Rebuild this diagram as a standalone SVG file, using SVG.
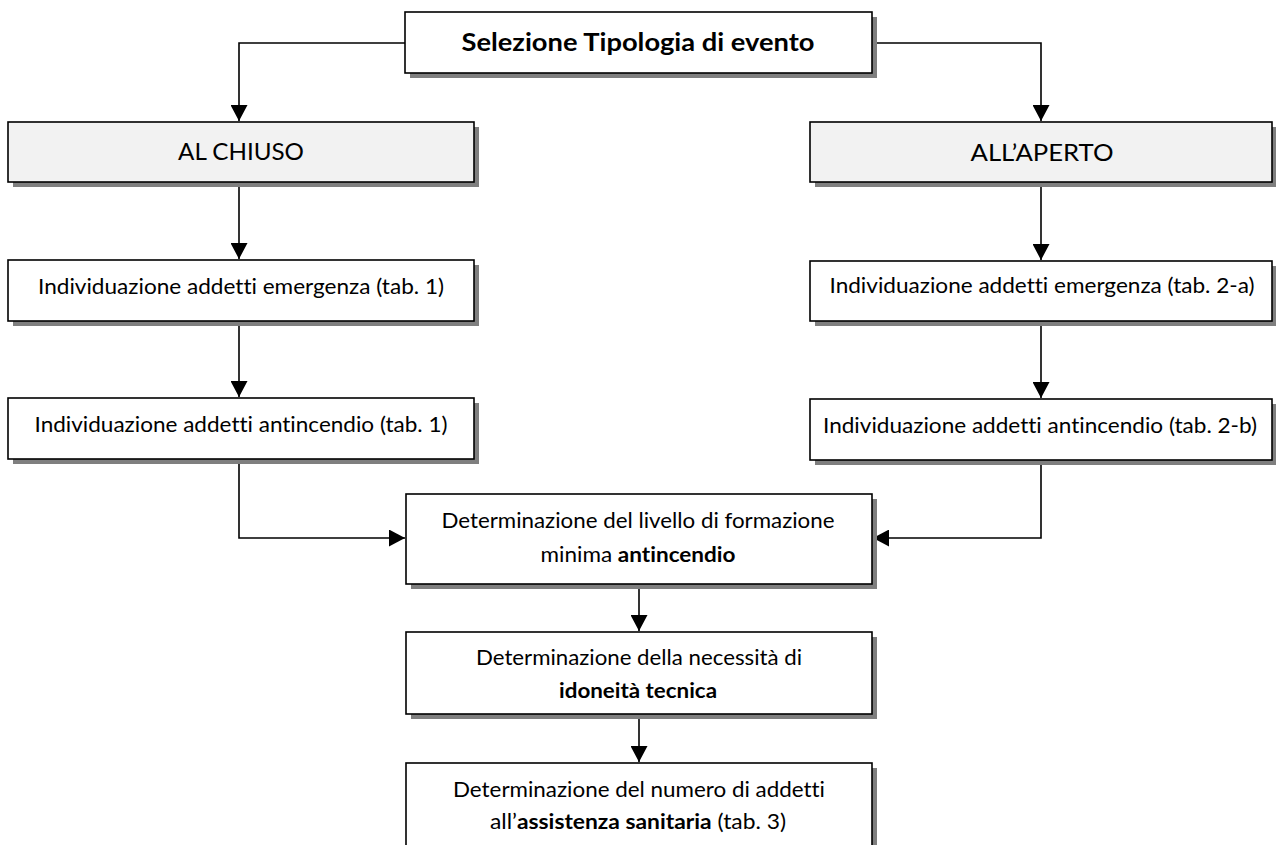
<svg xmlns="http://www.w3.org/2000/svg" width="1276" height="845" viewBox="0 0 1276 845">
<style>
.box{fill:#fff;stroke:#000;stroke-width:1.6}
.gray{fill:#f2f2f2}
.sh{fill:#7f7f7f}
.t{font-family:Lato,"Open Sans","Liberation Sans",sans-serif;font-size:21px;fill:#000;text-anchor:middle;font-variant-ligatures:none;font-feature-settings:"liga" 0,"clig" 0}
.big{font-size:24px}
.b{font-weight:bold}
.c{fill:none;stroke:#000;stroke-width:1.6}
</style>
<defs>
<marker id="ah" markerUnits="userSpaceOnUse" markerWidth="17" markerHeight="17" refX="16" refY="8.5" orient="auto" viewBox="0 0 17 17">
<path d="M0,0 L16,8.5 L0,17 z" fill="#000"/>
</marker>
</defs>
<rect width="1276" height="845" fill="#fff"/>

<g id="connectors">
<path class="c" d="M405,43 H239 V121" marker-end="url(#ah)"/>
<path class="c" d="M872,43 H1041 V121" marker-end="url(#ah)"/>
<path class="c" d="M239,182 V259" marker-end="url(#ah)"/>
<path class="c" d="M239,321 V397" marker-end="url(#ah)"/>
<path class="c" d="M1041,182 V260" marker-end="url(#ah)"/>
<path class="c" d="M1041,321 V398" marker-end="url(#ah)"/>
<path class="c" d="M239,459 V538 H405" marker-end="url(#ah)"/>
<path class="c" d="M1041,460 V538 H873" marker-end="url(#ah)"/>
<path class="c" d="M639,584 V631" marker-end="url(#ah)"/>
<path class="c" d="M639,714 V762" marker-end="url(#ah)"/>
</g>

<g id="n-tipologia">
<rect class="sh" x="410" y="17" width="467" height="61"/>
<rect class="box" x="405" y="12" width="467" height="61"/>
<text class="t big b" x="638" y="51" textLength="353" lengthAdjust="spacingAndGlyphs">Selezione Tipologia di evento</text>
</g>

<g id="n-chiuso">
<rect class="sh" x="13" y="127" width="466" height="60"/>
<rect class="box gray" x="8" y="122" width="466" height="60"/>
<text class="t big" x="241" y="160" textLength="126" lengthAdjust="spacingAndGlyphs">AL CHIUSO</text>
</g>

<g id="n-aperto">
<rect class="sh" x="815" y="127" width="462" height="60"/>
<rect class="box gray" x="810" y="122" width="462" height="60"/>
<text class="t big" x="1042" y="161" textLength="143" lengthAdjust="spacingAndGlyphs">ALL’APERTO</text>
</g>

<g id="n-emerg-1">
<rect class="sh" x="13" y="265" width="466" height="61"/>
<rect class="box" x="8" y="260" width="466" height="61"/>
<text class="t" x="241" y="294" textLength="406" lengthAdjust="spacingAndGlyphs">Individuazione addetti emergenza (tab. 1)</text>
</g>

<g id="n-antinc-1">
<rect class="sh" x="13" y="403" width="466" height="61"/>
<rect class="box" x="8" y="398" width="466" height="61"/>
<text class="t" x="241" y="432" textLength="413" lengthAdjust="spacingAndGlyphs">Individuazione addetti antincendio (tab. 1)</text>
</g>

<g id="n-emerg-2a">
<rect class="sh" x="815" y="266" width="462" height="60"/>
<rect class="box" x="810" y="261" width="462" height="60"/>
<text class="t" x="1042" y="293" textLength="425" lengthAdjust="spacingAndGlyphs">Individuazione addetti emergenza (tab. 2-a)</text>
</g>

<g id="n-antinc-2b">
<rect class="sh" x="815" y="404" width="462" height="61"/>
<rect class="box" x="810" y="399" width="462" height="61"/>
<text class="t" x="1040" y="433" textLength="434" lengthAdjust="spacingAndGlyphs">Individuazione addetti antincendio (tab. 2-b)</text>
</g>

<g id="n-formazione">
<rect class="sh" x="411" y="499" width="466" height="90"/>
<rect class="box" x="406" y="494" width="466" height="90"/>
<text class="t" x="638" y="528" textLength="393" lengthAdjust="spacingAndGlyphs">Determinazione del livello di formazione</text>
<text class="t" x="638" y="562" textLength="195" lengthAdjust="spacingAndGlyphs">minima <tspan class="b">antincendio</tspan></text>
</g>

<g id="n-idoneita">
<rect class="sh" x="411" y="637" width="466" height="82"/>
<rect class="box" x="406" y="632" width="466" height="82"/>
<text class="t" x="639" y="665" textLength="326" lengthAdjust="spacingAndGlyphs">Determinazione della necessità di</text>
<text class="t b" x="638" y="698" textLength="158" lengthAdjust="spacingAndGlyphs">idoneità tecnica</text>
</g>

<g id="n-sanitaria">
<rect class="sh" x="411" y="768" width="466" height="95"/>
<rect class="box" x="406" y="763" width="466" height="95"/>
<text class="t" x="639" y="797" textLength="372" lengthAdjust="spacingAndGlyphs">Determinazione del numero di addetti</text>
<text class="t" x="638" y="829" textLength="296" lengthAdjust="spacingAndGlyphs">all’<tspan class="b">assistenza sanitaria</tspan> (tab. 3)</text>
</g>
</svg>
